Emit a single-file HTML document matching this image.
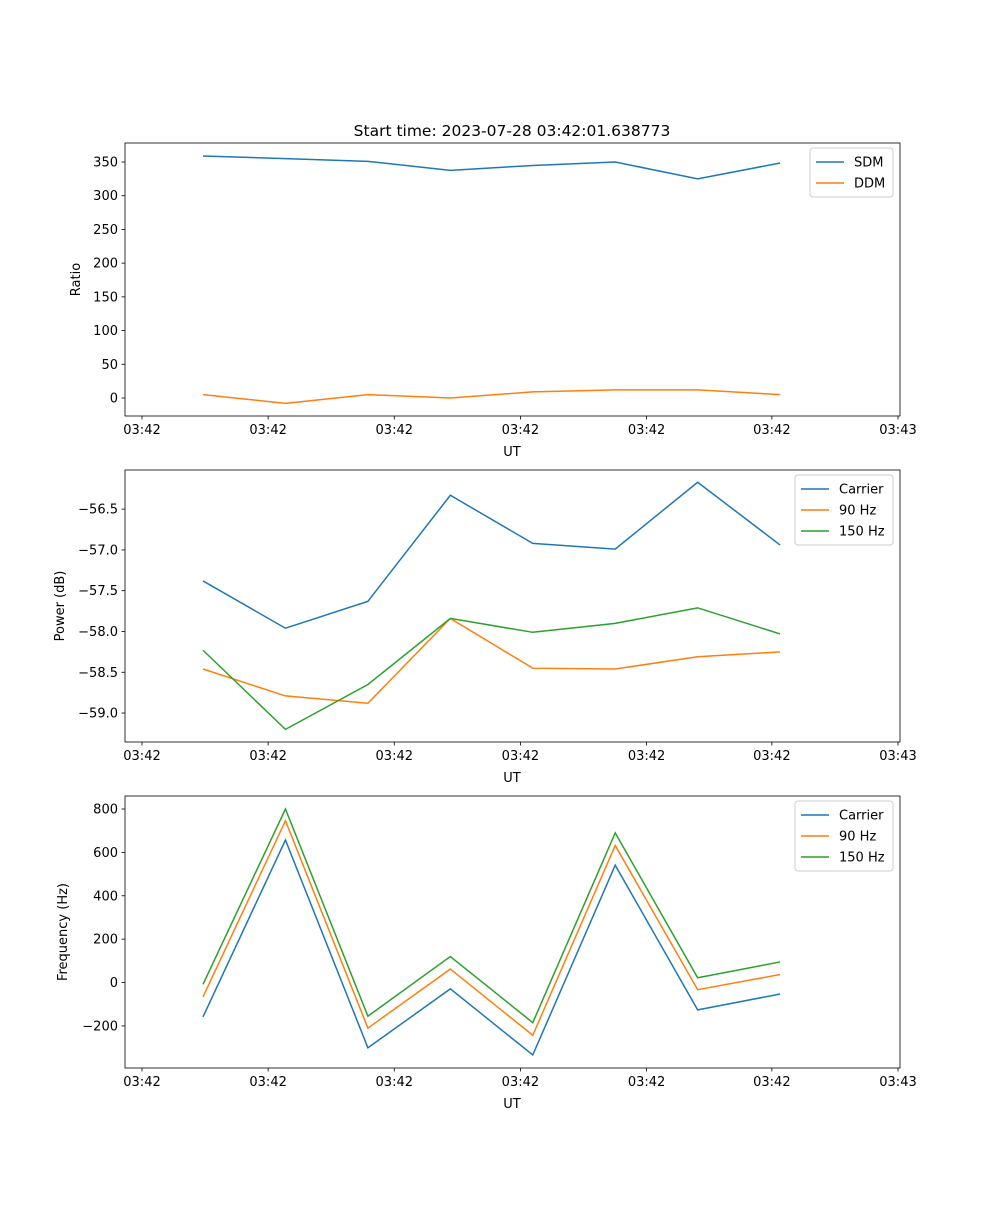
<!DOCTYPE html>
<html><head><meta charset="utf-8"><style>
body{margin:0;background:#fff}
svg text{font-family:"DejaVu Sans","Liberation Sans",sans-serif;fill:#000}
</style></head><body>
<svg id="fig" width="1000" height="1200" xmlns="http://www.w3.org/2000/svg">
<rect width="1000" height="1200" fill="#fff"/>
<text x="512" y="136" font-size="15.5" text-anchor="middle">Start time: 2023-07-28 03:42:01.638773</text>
</svg>
<script>
const xIndex = [0,1,2,3,4,5,6,7];
const xTickVals = [-0.74,0.79,2.32,3.85,5.38,6.90,8.43];
const xTickLabels = ["03:42","03:42","03:42","03:42","03:42","03:42","03:43"];
const sdm = [358.9,355,351,337.6,344.9,350,325,348.5];
const ddm = [5,-8,5,0,9,12,12,5];
const powCarrier = [-57.38,-57.96,-57.63,-56.33,-56.92,-56.99,-56.17,-56.94];
const pow90 = [-58.46,-58.79,-58.88,-57.84,-58.45,-58.46,-58.31,-58.25];
const pow150 = [-58.23,-59.2,-58.65,-57.84,-58.01,-57.9,-57.71,-58.03];
const freqCarrier = [-158,657,-301,-29,-334,541,-126,-53];
const freq90 = [-66,746,-210,62,-243,632,-33,37];
const freq150 = [-8,800,-155,120,-185,690,22,95];
const ratioTicks = [0,50,100,150,200,250,300,350];
const powTicks = [-59.0,-58.5,-58.0,-57.5,-57.0,-56.5];
const freqTicks = [-200,0,200,400,600,800];

const svg=document.getElementById('fig');
const NS='http://www.w3.org/2000/svg';
const C1='#1f77b4',C2='#ff7f0e',C3='#2ca02c';
function mk(tag,attrs,parent){const e=document.createElementNS(NS,tag);for(const k in attrs)e.setAttribute(k,attrs[k]);(parent||svg).appendChild(e);return e;}
const L=125,R=900;
function xs(v){return 142+(v+0.74)*(756/9.17);}

function panel(name,top,bot,ymin,ymax,yticks,ylabel,ylabelX,series,legend){
  const g=mk('g',{});
  
  
  const ys=v=>bot-(v-ymin)/(ymax-ymin)*(bot-top);
  series.forEach(s=>{
    const p=mk('polyline',{points:s.vals.map((v,i)=>xs(xIndex[i])+','+ys(v)).join(' '),fill:'none',stroke:s.color,'stroke-width':1.5},g);
    
    
  });
  const fr=mk('rect',{x:L,y:top,width:R-L,height:bot-top,fill:'none',stroke:'#000','stroke-width':0.8},g);
  
  
  xTickVals.forEach((v,i)=>{
    const x=xs(v);
    mk('line',{x1:x,x2:x,y1:bot,y2:bot+3.5,stroke:'#000','stroke-width':0.8},g);
    const t=mk('text',{x:x,y:bot+18,'font-size':13,'text-anchor':'middle'},g);
    t.textContent=xTickLabels[i];
    
    
  });
  const xl=mk('text',{x:512,y:bot+40,'font-size':13,'text-anchor':'middle'},g);
  xl.textContent='UT';
  
  
  yticks.forEach(v=>{
    const y=ys(v);
    mk('line',{x1:L-3.5,x2:L,y1:y,y2:y,stroke:'#000','stroke-width':0.8},g);
    const t=mk('text',{x:L-7,y:y+4.5,'font-size':13,'text-anchor':'end'},g);
    t.textContent=ymax>100?String(v).replace('-','\u2212'):v.toFixed(1).replace('-','\u2212');
    
    
  });
  const yl=mk('text',{x:ylabelX,y:(top+bot)/2,'font-size':13,'text-anchor':'middle',transform:`rotate(-90 ${ylabelX} ${(top+bot)/2})`},g);
  yl.textContent=ylabel;
  
  
  const lg=mk('g',{},g);
  
  
  mk('rect',{x:legend.x,y:top+5,width:legend.w,height:series.length*21+7,rx:3,fill:'#fff',stroke:'#ccc','stroke-width':1},lg);
  series.forEach((s,i)=>{
    const y=top+19+i*21;
    mk('line',{x1:legend.x+6,x2:legend.x+34,y1:y,y2:y,stroke:s.color,'stroke-width':1.5},lg);
    const t=mk('text',{x:legend.x+44,y:y+4.5,'font-size':13},lg);
    t.textContent=s.label;
    
    
  });
}
panel('ratio-panel',143,416,-26.7,378.2,ratioTicks,'Ratio',80,
  [{id:'sdm-line',vals:sdm,color:C1,label:'SDM'},{id:'ddm-line',vals:ddm,color:C2,label:'DDM'}],{x:810,w:83});
panel('power-panel',470,742,-59.355,-56.02,powTicks,'Power (dB)',64,
  [{id:'power-carrier-line',vals:powCarrier,color:C1,label:'Carrier'},{id:'power-90hz-line',vals:pow90,color:C2,label:'90 Hz'},{id:'power-150hz-line',vals:pow150,color:C3,label:'150 Hz'}],{x:795,w:98});
panel('frequency-panel',796,1068,-394,860,freqTicks,'Frequency (Hz)',67,
  [{id:'freq-carrier-line',vals:freqCarrier,color:C1,label:'Carrier'},{id:'freq-90hz-line',vals:freq90,color:C2,label:'90 Hz'},{id:'freq-150hz-line',vals:freq150,color:C3,label:'150 Hz'}],{x:795,w:98});
</script>
</body></html>
